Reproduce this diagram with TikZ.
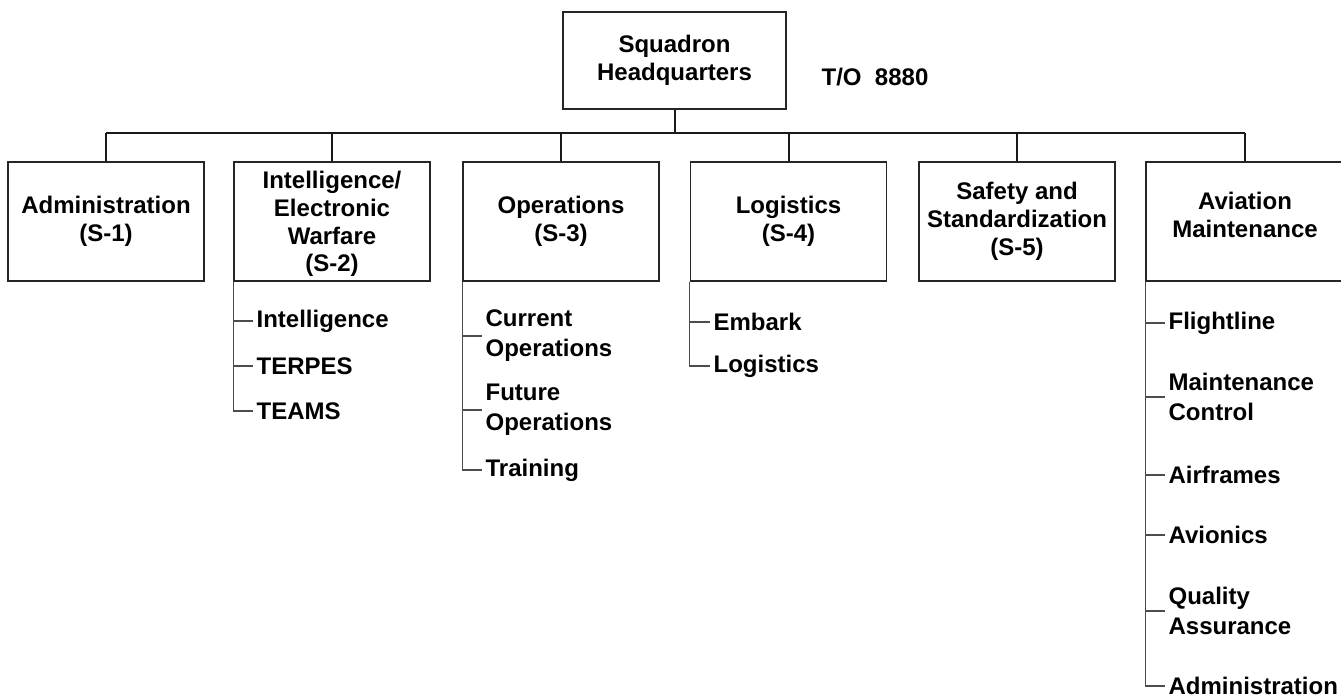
\documentclass[tikz,border=0pt]{standalone}
\usepackage{fontspec}
\setmainfont{Liberation Sans}
\newcommand\boxfont{\fontsize{18}{20.8}\selectfont\bfseries}
\newcommand\itemfont{\fontsize{18}{22.5}\selectfont\bfseries}
\tikzset{
  boxst/.style={draw=black!85, line width=1pt, minimum width=147pt, minimum height=89.25pt, inner sep=0pt, align=center, font=\boxfont},
  busst/.style={line width=1.5pt, draw=black!90},
  subst/.style={line width=0.8pt, draw=black!70},
  itemst/.style={anchor=west, inner xsep=2.5pt, inner ysep=0pt, align=left, font=\itemfont},
}
\begin{document}
\begin{tikzpicture}[x=0.75pt,y=-0.75pt]
\useasboundingbox (0,0) rectangle (1341,697);
% top
\node[boxst, minimum width=167.25pt, minimum height=72.75pt] (top) at (674.5,60.5) {Squadron\\Headquarters};
\node[font=\boxfont] (to) at (875,77) {T/O\ \ 8880};
% second level
\node[boxst] (b1) at (106,221.5) {Administration\\(S-1)};
\node[boxst] (b2) at (332,221.5) {};
\node[font=\boxfont, align=center] (b2t) at (332,224) {Intelligence/\\Electronic\\Warfare\\(S-2)};
\node[boxst] (b3) at (561,221.5) {Operations\\(S-3)};
\node[boxst] (b4) at (788.5,221.5) {Logistics\\(S-4)};
\node[boxst] (b5) at (1017,221.5) {Safety and\\Standardization\\(S-5)};
\node[boxst, minimum width=148.5pt] (b6) at (1245,221.5) {};
\node[font=\boxfont, align=center] (b6t) at (1245,215) {Aviation\\Maintenance};
% bus
\coordinate (busy) at (0,133);
\draw[busst] (top.south) -- (top.south |- busy);
\draw[busst] (b1.north |- busy) -- (b6.north |- busy);
\foreach \b in {b1,b2,b3,b4,b5,b6}{
  \draw[busst] (\b.north) -- (\b.north |- busy);
}
% S-2 items
\node[itemst] (i21) at (253,321) {Intelligence};
\node[itemst] (i22) at (253,366) {TERPES};
\node[itemst] (i23) at (253,411) {TEAMS};
\draw[subst] (b2.south west) |- (i23.west);
\foreach \i in {i21,i22}{ \draw[subst] (b2.south west |- \i.west) -- (\i.west); }
% S-3 items
\node[itemst] (i31) at (482,336) {Current\\Operations};
\node[itemst] (i32) at (482,410) {Future\\Operations};
\node[itemst] (i33) at (482,470) {Training};
\draw[subst] (b3.south west) |- (i33.west);
\foreach \i in {i31,i32}{ \draw[subst] (b3.south west |- \i.west) -- (\i.west); }
% S-4 items
\node[itemst] (i41) at (710,322) {Embark};
\node[itemst] (i42) at (710,366) {Logistics};
\draw[subst] (b4.south west) |- (i42.west);
\draw[subst] (b4.south west |- i41.west) -- (i41.west);
% Aviation maintenance items
\node[itemst] (i61) at (1165,323) {Flightline};
\node[itemst] (i62) at (1165,397) {Maintenance\\Control};
\node[itemst] (i63) at (1165,475) {Airframes};
\node[itemst] (i64) at (1165,535) {Avionics};
\node[itemst] (i65) at (1165,611) {Quality\\Assurance};
\node[itemst] (i66) at (1165,686) {Administration};
\draw[subst] (b6.south west) |- (i66.west);
\foreach \i in {i61,i62,i63,i64,i65}{ \draw[subst] (b6.south west |- \i.west) -- (\i.west); }
\end{tikzpicture}
\end{document}
